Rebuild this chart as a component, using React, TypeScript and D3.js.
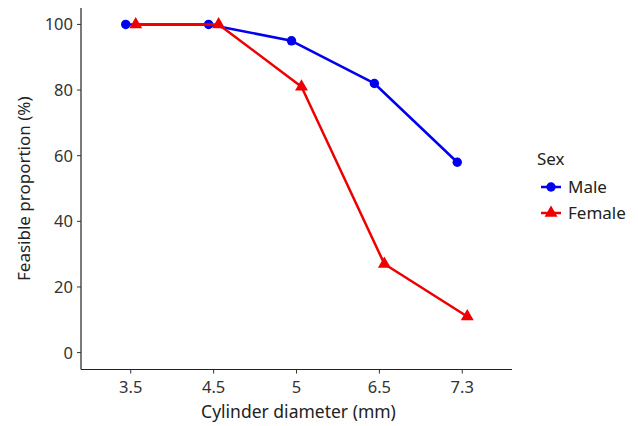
import React from 'react';
import * as d3 from 'd3';

const diameters = ['3.5', '4.5', '5', '6.5', '7.3'];
const maleValues = [100, 100, 95, 82, 58];
const femaleValues = [100, 100, 81, 27, 11];
const yTicks = [0, 20, 40, 60, 80, 100];

const W = 638;
const H = 426;
const margin = { left: 81, right: 126, top: 8, bottom: 57 };
const FONT = '"Noto Sans", sans-serif';

const App = () => {
  const x = d3.scalePoint<string>()
    .domain(diameters)
    .range([margin.left, W - margin.right])
    .padding(0.6);
  const y = d3.scaleLinear()
    .domain([-5, 105])
    .range([H - margin.bottom, margin.top]);

  const dodge = 5;
  const series = [
    { name: 'Male', values: maleValues, color: '#0000ee', shape: 'circle', off: -dodge },
    { name: 'Female', values: femaleValues, color: '#ee0000', shape: 'triangle', off: dodge },
  ];

  const line = d3.line<[number, number]>();
  const tri = d3.symbol().type(d3.symbolTriangle).size(72)();
  const dot = d3.symbol().type(d3.symbolCircle).size(70)();

  const axisY = H - margin.bottom + 0.5;
  const x0 = margin.left;
  const x1 = W - margin.right;

  return (
    <svg width={W} height={H} style={{ position: 'absolute', left: 0, top: 0, background: '#fff' }}>
      {/* y axis */}
      <line x1={x0} x2={x0} y1={margin.top} y2={axisY} stroke="#222" strokeWidth={1.2} />
      {yTicks.map((t) => (
        <g key={t}>
          <line x1={x0 - 4} x2={x0} y1={y(t)} y2={y(t)} stroke="#333" strokeWidth={1} />
          <text x={x0 - 8} y={y(t)} dy="0.36em" textAnchor="end" fontSize={16.5} fill="#333" fontFamily={FONT}>
            {t}
          </text>
        </g>
      ))}
      {/* x axis */}
      <line x1={x0} x2={x1} y1={axisY} y2={axisY} stroke="#222" strokeWidth={1.2} />
      {diameters.map((d) => (
        <g key={d}>
          <line x1={x(d)} x2={x(d)} y1={axisY} y2={axisY + 4} stroke="#333" strokeWidth={1} />
          <text x={x(d)} y={393} textAnchor="middle" fontSize={16.5} fill="#333" fontFamily={FONT}>
            {d}
          </text>
        </g>
      ))}
      <text x={(x0 + x1) / 2 + 2} y={418} textAnchor="middle" fontSize={17.5} fill="#222" fontFamily={FONT}>
        Cylinder diameter (mm)
      </text>
      <text
        transform={`translate(30,${(margin.top + axisY) / 2}) rotate(-90)`}
        textAnchor="middle"
        fontSize={17}
        fill="#222"
        fontFamily={FONT}
      >
        Feasible proportion (%)
      </text>

      {series.map((s) => {
        const pts: [number, number][] = s.values.map((v, i) => [(x(diameters[i]) as number) + s.off, y(v)]);
        return (
          <g key={s.name}>
            <path d={line(pts) || ''} fill="none" stroke={s.color} strokeWidth={2.5} strokeLinejoin="round" />
            {pts.map((p, i) => (
              <path
                key={i}
                d={(s.shape === 'circle' ? dot : tri) || ''}
                transform={`translate(${p[0]},${p[1]})`}
                fill={s.color}
              />
            ))}
          </g>
        );
      })}

      {/* legend */}
      <text x={537} y={165} fontSize={17} fill="#222" fontFamily={FONT}>Sex</text>
      {series.map((s, i) => {
        const ly = 187 + i * 26;
        return (
          <g key={s.name}>
            <line x1={541} x2={561} y1={ly} y2={ly} stroke={s.color} strokeWidth={2.5} />
            <path
              d={(s.shape === 'circle' ? dot : tri) || ''}
              transform={`translate(551,${ly})`}
              fill={s.color}
            />
            <text x={568} y={ly} dy="0.36em" fontSize={17} fill="#222" fontFamily={FONT}>
              {s.name}
            </text>
          </g>
        );
      })}
    </svg>
  );
};

export default App;
